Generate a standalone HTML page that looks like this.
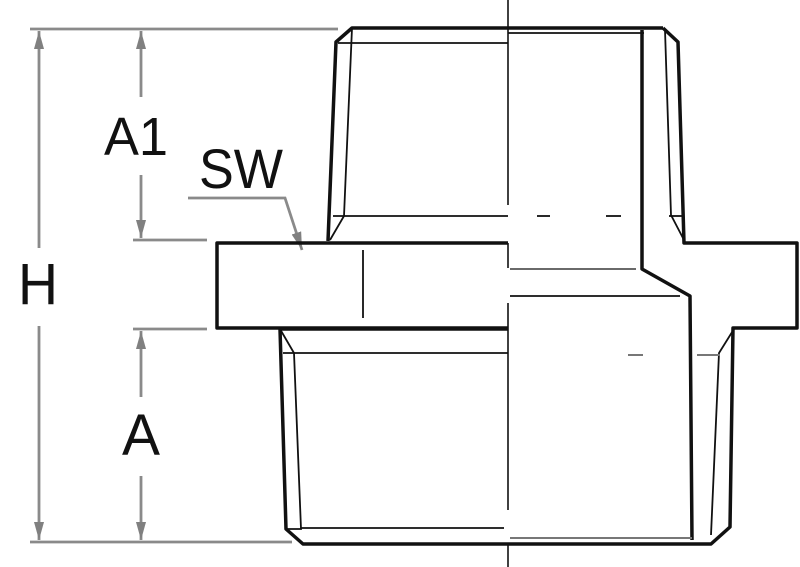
<!DOCTYPE html>
<html><head><meta charset="utf-8"><style>
html,body{margin:0;padding:0;background:#fff;}
svg{display:block;}
text{font-family:"Liberation Sans",sans-serif;fill:#111;}
</style></head><body>
<svg width="800" height="567" viewBox="0 0 800 567" xmlns="http://www.w3.org/2000/svg">
<defs>
<marker id="ar" viewBox="0 0 10 10" refX="10" refY="5" markerWidth="18" markerHeight="10" orient="auto-start-reverse" markerUnits="userSpaceOnUse" preserveAspectRatio="none">
<path d="M0,0 L10,5 L0,10 z" fill="#808080"/>
</marker>
</defs>
<g stroke="#8a8a8a" stroke-width="2.8" fill="none">
<line x1="30" y1="29" x2="338" y2="29"/>
<line x1="30" y1="542" x2="292" y2="542"/>
<line x1="133" y1="240" x2="207" y2="240"/>
<line x1="133" y1="329" x2="207" y2="329"/>
<line x1="39" y1="248" x2="39" y2="31" marker-end="url(#ar)"/>
<line x1="39" y1="326" x2="39" y2="540" marker-end="url(#ar)"/>
<line x1="141" y1="97" x2="141" y2="31" marker-end="url(#ar)"/>
<line x1="141" y1="175" x2="141" y2="238" marker-end="url(#ar)"/>
<line x1="141" y1="397" x2="141" y2="331" marker-end="url(#ar)"/>
<line x1="141" y1="476" x2="141" y2="540" marker-end="url(#ar)"/>
<polyline points="188,198 285,198 302,250" marker-end="url(#ar)"/>
</g>
<text x="104" y="155" font-size="54" textLength="64" lengthAdjust="spacingAndGlyphs">A1</text>
<text x="199" y="188" font-size="56" textLength="84" lengthAdjust="spacingAndGlyphs">SW</text>
<text x="18" y="304" font-size="58" textLength="40" lengthAdjust="spacingAndGlyphs">H</text>
<text x="122" y="455" font-size="58" textLength="38" lengthAdjust="spacingAndGlyphs">A</text>
<g stroke="#111" stroke-width="1.6">
<line x1="508" y1="0" x2="508" y2="205"/>
<line x1="508" y1="243" x2="508" y2="268"/>
<line x1="508" y1="303" x2="508" y2="510"/>
<line x1="508" y1="545" x2="508" y2="567"/>
</g>
<g stroke="#111" stroke-width="3.5" fill="none" stroke-linejoin="round">
<polyline points="508,28 352,28 336,42 328,241"/>
<polyline points="663,28 678,42 684,243 797,243 797,328 733,328 730,527 711,544 303,544 286,529 280,329"/>
<line x1="663" y1="28" x2="508" y2="28"/>
<polyline points="508,243 217,243 217,328 508,328"/>
<line x1="280" y1="329" x2="508" y2="329"/>
<polyline points="642,30 642,269 690,296 692,540"/>
</g>
<g stroke="#111" stroke-width="1.8" fill="none">
<line x1="338" y1="43" x2="508" y2="43"/>
<line x1="508" y1="33" x2="644" y2="33"/>
<polyline points="352,28 344,216 330,240"/>
<line x1="333" y1="216" x2="508" y2="216"/>
<polyline points="665,30 671,215 684,240"/>
<line x1="363" y1="250" x2="363" y2="318"/>
<line x1="510" y1="269" x2="636" y2="269" stroke="#555"/>
<line x1="510" y1="296" x2="680" y2="296"/>
<polyline points="280,329 294,353 301,529 286,529"/>
<line x1="283" y1="353" x2="508" y2="353"/>
<line x1="301" y1="528" x2="504" y2="528"/>
<polyline points="734,329 719,353 711,535"/>
<line x1="510" y1="538" x2="692" y2="538" stroke="#777" stroke-width="2"/>
<line x1="537" y1="216" x2="550" y2="216"/>
<line x1="606" y1="216" x2="621" y2="216"/>
<line x1="669" y1="216" x2="682" y2="216"/>
<line x1="628" y1="355" x2="643" y2="355" stroke="#777" stroke-width="2"/>
<line x1="697" y1="355" x2="720" y2="355" stroke="#777" stroke-width="2"/>
</g>
</svg>
</body></html>
